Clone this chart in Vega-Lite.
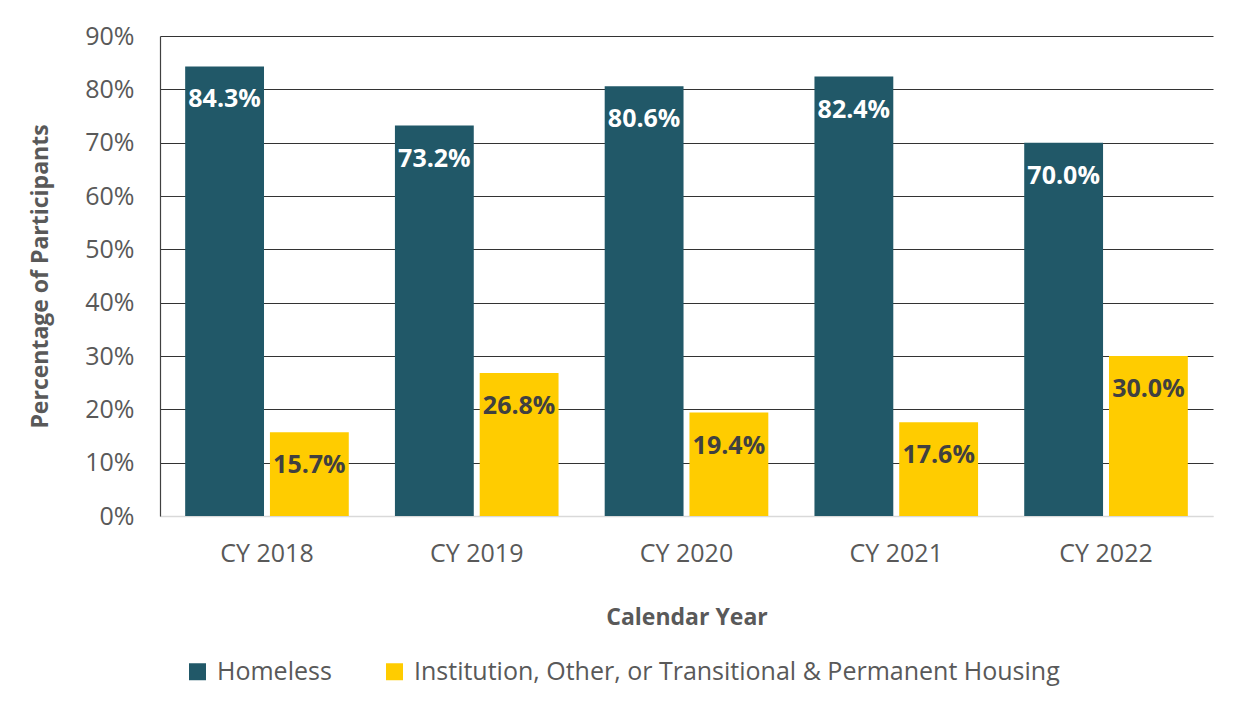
{
  "$schema": "https://vega.github.io/schema/vega-lite/v6.json",
  "autosize": "none",
  "width": 1053,
  "height": 480,
  "padding": {"left": 160, "top": 36, "right": 31, "bottom": 197},
  "background": "white",
  "data": {"values": [
    {"year": "CY 2018", "cat": "Homeless", "pct": 0.843},
    {"year": "CY 2018", "cat": "Institution, Other, or Transitional & Permanent Housing", "pct": 0.157},
    {"year": "CY 2019", "cat": "Homeless", "pct": 0.732},
    {"year": "CY 2019", "cat": "Institution, Other, or Transitional & Permanent Housing", "pct": 0.268},
    {"year": "CY 2020", "cat": "Homeless", "pct": 0.806},
    {"year": "CY 2020", "cat": "Institution, Other, or Transitional & Permanent Housing", "pct": 0.194},
    {"year": "CY 2021", "cat": "Homeless", "pct": 0.824},
    {"year": "CY 2021", "cat": "Institution, Other, or Transitional & Permanent Housing", "pct": 0.176},
    {"year": "CY 2022", "cat": "Homeless", "pct": 0.700},
    {"year": "CY 2022", "cat": "Institution, Other, or Transitional & Permanent Housing", "pct": 0.300}
  ]},
  "encoding": {
    "x": {"field": "year", "type": "nominal", "sort": null,
      "scale": {"paddingInner": 0.22, "paddingOuter": 0.12},
      "axis": {"title": "Calendar Year", "labelAngle": 0, "labelFontSize": 25, "labelColor": "#595959",
        "labelPadding": 25, "ticks": false, "domainColor": "#d9d9d9", "domainWidth": 1.5,
        "titleFontSize": 23, "titleFontWeight": "bold", "titleColor": "#595959", "titlePadding": 40, "grid": false}},
    "xOffset": {"field": "cat", "type": "nominal", "scale": {"paddingInner": 0.07}},
    "y": {"field": "pct", "type": "quantitative",
      "scale": {"domain": [0, 0.9]},
      "axis": {"title": "Percentage of Participants", "format": ".0%", "values": [0, 0.1, 0.2, 0.3, 0.4, 0.5, 0.6, 0.7, 0.8, 0.9],
        "labelFontSize": 25, "labelColor": "#595959", "labelPadding": 26, "ticks": false,
        "domainColor": "#404040", "domainWidth": 1.2,
        "gridColor": {"condition": {"test": "datum.value === 0", "value": "#d9d9d9"}, "value": "#333333"},
        "gridWidth": 1.2,
        "titleFontSize": 23, "titleFontWeight": "bold", "titleColor": "#595959", "titlePadding": 32}}
  },
  "layer": [
    {
      "mark": {"type": "bar"},
      "encoding": {
        "color": {"field": "cat", "type": "nominal",
          "scale": {"domain": ["Homeless", "Institution, Other, or Transitional & Permanent Housing"], "range": ["#215868", "#FFCC00"]},
          "legend": {"title": null, "orient": "none", "direction": "horizontal", "legendX": 25, "legendY": 623,
            "symbolType": "square", "symbolSize": 289, "symbolStrokeWidth": 0, "labelFontSize": 25, "labelColor": "#595959",
            "labelLimit": 900, "columnPadding": 50, "labelOffset": 7}}
      }
    },
    {
      "mark": {"type": "text", "fontSize": 25, "fontWeight": "bold", "baseline": "middle", "dy": 33},
      "encoding": {
        "text": {"field": "pct", "type": "quantitative", "format": ".1%"},
        "color": {"condition": {"test": "datum.cat === 'Homeless'", "value": "white"}, "value": "#404040"}
      }
    }
  ],
  "config": {
    "font": "Open Sans",
    "view": {"stroke": null}
  }
}
